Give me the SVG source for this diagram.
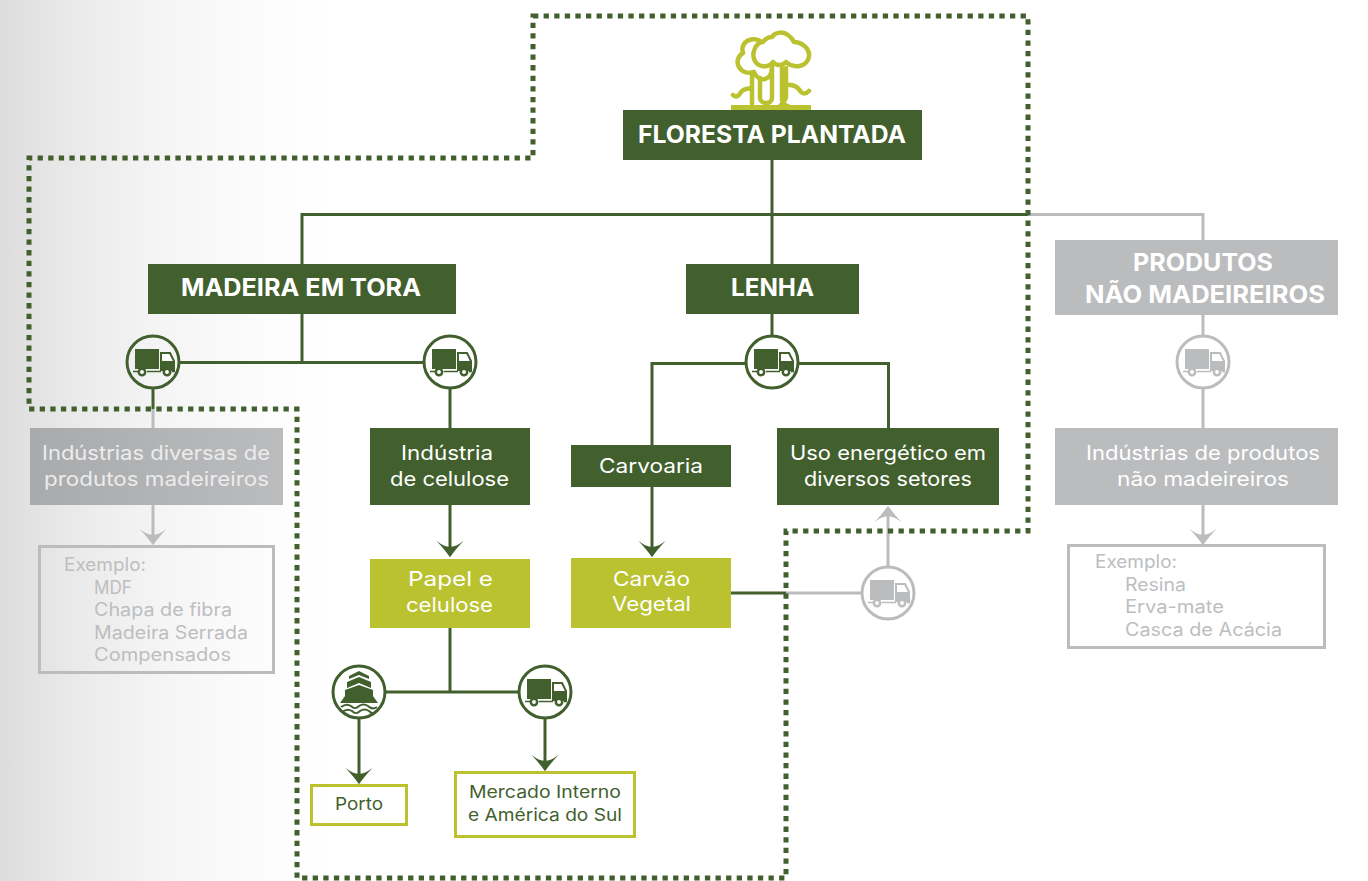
<svg xmlns="http://www.w3.org/2000/svg" xmlns:xlink="http://www.w3.org/1999/xlink" width="1368" height="881" viewBox="0 0 1368 881">
<style>
text{font-family:Inter,"Open Sans","Liberation Sans",sans-serif;text-anchor:start}
.g{fill:#425f2e}.y{fill:#bac22f}.n{fill:#bbbcbe}
.t{fill:#fff;font-size:24px;font-weight:700}
.b{fill:#fff;font-size:20px;font-weight:400}
.d{fill:#425f2e;font-size:17px;font-weight:400}
.e{fill:#bdbebf;font-size:18px;font-weight:400}
.cg,.cn{fill:none;stroke-width:3}
.cg{stroke:#425f2e}.cn{stroke:#bbbcbe}
.ico-g{color:#425f2e}.ico-n{color:#bbbcbe}
.frame{fill:none;stroke-width:3}
</style>
<defs>
<linearGradient id="bg" x1="0" x2="1" y1="0" y2="0"><stop offset="0" stop-color="#dddddd"/><stop offset="0.25" stop-color="#ebebeb"/><stop offset="0.5" stop-color="#f5f5f5"/><stop offset="0.75" stop-color="#fbfbfb"/><stop offset="1" stop-color="#fff"/></linearGradient>
<linearGradient id="gb" gradientUnits="userSpaceOnUse" x1="30" x2="283" y1="0" y2="0"><stop offset="0" stop-color="#a9aaab"/><stop offset="1" stop-color="#bbbcbe"/></linearGradient>
<marker id="ag" markerUnits="userSpaceOnUse" markerWidth="26" markerHeight="28" refX="12" refY="12" orient="auto" viewBox="0 0 16 24"><path d="M0,0.5Q5,7 5,12Q5,17 0,23.5Q8,16 14,12Q8,8 0,0.5Z" fill="#425f2e"/></marker>
<marker id="an" markerUnits="userSpaceOnUse" markerWidth="26" markerHeight="28" refX="12" refY="12" orient="auto" viewBox="0 0 16 24"><path d="M0,0.5Q5,7 5,12Q5,17 0,23.5Q8,16 14,12Q8,8 0,0.5Z" fill="#bbbcbe"/></marker>
<g id="truck">
<circle cx="0" cy="0" r="26" fill="none" stroke="currentColor" stroke-width="3"/>
<rect x="-18" y="-13" width="24" height="20" fill="currentColor"/>
<path d="M8,-9H17L21,-1V8H8Z" fill="none" stroke="currentColor" stroke-width="2"/>
<path d="M9,-8H15.500L19,-2H9Z" fill="#fff"/>
<path d="M9,-1H20V8H9Z" fill="currentColor"/>
<path d="M-20,9.500H-15M-6,9.500H8M19,9.500H22" stroke="currentColor" stroke-width="1.500" fill="none"/>
<circle cx="-11" cy="10" r="3.200" fill="#fff" stroke="currentColor" stroke-width="2.500"/>
<circle cx="14" cy="10" r="3.200" fill="#fff" stroke="currentColor" stroke-width="2.500"/>
</g>
</defs>

<rect id="background" x="0" y="0" width="330" height="881" fill="url(#bg)"/>

<g id="connectors">
<path class="cg" d="M772,160V264"/>
<path class="cg" d="M302,264V214.500H1028"/>
<path class="cn" d="M1028,214.500H1203V240"/>
<path class="cg" d="M302,314V362.500"/>
<path class="cg" d="M178,362.500H424"/>
<path class="cg" d="M153,388V409"/>
<path class="cn" d="M153,409V428"/>
<path class="cn" d="M153,505V543" marker-end="url(#an)"/>
<path class="cg" d="M450,388V428"/>
<path class="cg" d="M450,505V555" marker-end="url(#ag)"/>
<path class="cg" d="M450,628V692"/>
<path class="cg" d="M386,692H519"/>
<path class="cg" d="M359,718V782" marker-end="url(#ag)"/>
<path class="cg" d="M545,718V769" marker-end="url(#ag)"/>
<path class="cg" d="M772,314V336"/>
<path class="cg" d="M746,363.500H652V445"/>
<path class="cg" d="M798,363.500H888.500V428"/>
<path class="cg" d="M652,487V555" marker-end="url(#ag)"/>
<path class="cg" d="M731,593H786"/>
<path class="cn" d="M786,593H862"/>
<path class="cn" d="M888,567V508" marker-end="url(#an)"/>
<path class="cn" d="M1203,315V336"/>
<path class="cn" d="M1203,388V428"/>
<path class="cn" d="M1203,505V543" marker-end="url(#an)"/>
</g>

<path id="boundary" d="M533,16H1028V531H786V878H297V409H29V158H533Z" fill="none" stroke="#425f2e" stroke-width="5" stroke-dasharray="5.300 5.300"/>

<g id="tree" fill="none" stroke="#bac22f" stroke-width="4.500" stroke-linecap="round" stroke-linejoin="round">
<path d="M773,62C770,66 765,67 762,66C755,65 752,57 754,51C755,46 759,42 763,42C766,38 770,37 772,37C775,32 783,31 788,35C791,37 793,40 794,42C802,42 810,49 809,56C808,64 801,67 795,66C791,66 788,64 786,62C782,66 776,66 773,62Z"/>
<path d="M760,41C755,38 747,39 744,44C742,47 742,50 743,53C738,56 736,62 739,67C742,72 748,74 754,72C756,77 760,80 765,79C769,78 772,74 772,67"/>
<path d="M752,76V104M760,78V98C760,104 772,105 772,98V68M782,68V100C782,104 786,106 788,106M786,68V96C786,101 782,104 780,106"/>
<path d="M733,95C736,98 739,96 741,92C744,88 749,89 752,88M809,91C806,94 803,94 801,92C798,87 794,84 786,85"/>
<path d="M731,107.500H811" stroke-width="5" stroke-linecap="butt"/>
</g>

<g id="node-floresta"><rect class="g" x="623" y="110" width="299" height="50"/><text class="t" x="638" y="143" textLength="268" lengthAdjust="spacingAndGlyphs">FLORESTA PLANTADA</text></g>
<g id="node-madeira"><rect class="g" x="148" y="264" width="308" height="50"/><text class="t" x="181" y="296" textLength="240" lengthAdjust="spacingAndGlyphs">MADEIRA EM TORA</text></g>
<g id="node-lenha"><rect class="g" x="686" y="264" width="173" height="50"/><text class="t" x="731" y="296" textLength="83" lengthAdjust="spacingAndGlyphs">LENHA</text></g>
<g id="node-produtos"><rect class="n" x="1055" y="240" width="283" height="75"/><text class="t" x="1133" y="271" textLength="140" lengthAdjust="spacingAndGlyphs">PRODUTOS</text><text class="t" x="1085" y="303" textLength="240" lengthAdjust="spacingAndGlyphs">NÃO MADEIREIROS</text></g>

<g id="icon-truck-1" class="ico-g"><use xlink:href="#truck" href="#truck" x="153" y="362"/></g>
<g id="icon-truck-2" class="ico-g"><use xlink:href="#truck" href="#truck" x="450" y="362"/></g>
<g id="icon-truck-3" class="ico-g"><use xlink:href="#truck" href="#truck" x="772" y="362"/></g>
<g id="icon-truck-4" class="ico-n"><use xlink:href="#truck" href="#truck" x="1203" y="362"/></g>
<g id="icon-truck-5" class="ico-n"><use xlink:href="#truck" href="#truck" x="888" y="593"/></g>
<g id="icon-truck-6" class="ico-g"><use xlink:href="#truck" href="#truck" x="545" y="692"/></g>
<g id="icon-ship" class="ico-g">
<circle cx="359" cy="692" r="26" fill="#fff" stroke="#425f2e" stroke-width="3"/>
<path d="M349,679V676L359,671L369,676V679L359,675Z" fill="#425f2e"/>
<path d="M347,688V682L359,677L371,682V688L359,683Z" fill="#425f2e"/>
<path d="M345,696V690L359,685L373,690V696L378,703H340Z" fill="#425f2e"/>
<path d="M341,707C345,704 348,704 351,706C354,709 356,709 359,706C362,704 365,704 368,706C371,709 374,709 377,707M342,712C346,709 349,709 352,711C355,714 357,714 360,711C363,709 366,709 369,711C372,714 374,714 376,712" fill="none" stroke="#425f2e" stroke-width="2"/>
</g>

<g id="node-ind-diversas"><rect x="30" y="428" width="253" height="77" fill="url(#gb)"/><text class="b" x="42" y="460" style="fill:#ececec" textLength="228" lengthAdjust="spacingAndGlyphs">Indústrias diversas de</text><text class="b" x="44" y="486" style="fill:#ececec" textLength="225" lengthAdjust="spacingAndGlyphs">produtos madeireiros</text></g>
<g id="node-ex-madeira"><rect class="frame" x="39.500" y="546.500" width="234" height="126" stroke="#bbbcbe"/>
<text class="e" x="64" y="571" textLength="82" lengthAdjust="spacingAndGlyphs">Exemplo:</text>
<text class="e" x="94" y="594" textLength="38" lengthAdjust="spacingAndGlyphs">MDF</text>
<text class="e" x="94" y="616" textLength="138" lengthAdjust="spacingAndGlyphs">Chapa de fibra</text>
<text class="e" x="94" y="639" textLength="154" lengthAdjust="spacingAndGlyphs">Madeira Serrada</text>
<text class="e" x="94" y="661" textLength="137" lengthAdjust="spacingAndGlyphs">Compensados</text></g>
<g id="node-ind-celulose"><rect class="g" x="370" y="428" width="160" height="77"/><text class="b" x="401" y="460" textLength="92" lengthAdjust="spacingAndGlyphs">Indústria</text><text class="b" x="390" y="486" textLength="119" lengthAdjust="spacingAndGlyphs">de celulose</text></g>
<g id="node-papel"><rect class="y" x="370" y="559" width="160" height="69"/><text class="b" x="408" y="586" textLength="85" lengthAdjust="spacingAndGlyphs">Papel e</text><text class="b" x="406" y="612" textLength="87" lengthAdjust="spacingAndGlyphs">celulose</text></g>
<g id="node-carvoaria"><rect class="g" x="571" y="445" width="160" height="42"/><text class="b" x="599" y="473" textLength="104" lengthAdjust="spacingAndGlyphs">Carvoaria</text></g>
<g id="node-carvao"><rect class="y" x="571" y="558" width="160" height="70"/><text class="b" x="613" y="586" textLength="77" lengthAdjust="spacingAndGlyphs">Carvão</text><text class="b" x="612" y="611" textLength="79" lengthAdjust="spacingAndGlyphs">Vegetal</text></g>
<g id="node-uso"><rect class="g" x="777" y="428" width="222" height="77"/><text class="b" x="790" y="460" textLength="196" lengthAdjust="spacingAndGlyphs">Uso energético em</text><text class="b" x="804" y="486" textLength="168" lengthAdjust="spacingAndGlyphs">diversos setores</text></g>
<g id="node-ind-nao"><rect class="n" x="1055" y="428" width="283" height="77"/><text class="b" x="1086" y="460" textLength="234" lengthAdjust="spacingAndGlyphs">Indústrias de produtos</text><text class="b" x="1117" y="486" textLength="172" lengthAdjust="spacingAndGlyphs">não madeireiros</text></g>
<g id="node-ex-nao"><rect class="frame" x="1068.500" y="545.500" width="256" height="102" stroke="#bbbcbe"/>
<text class="e" x="1095" y="568" textLength="82" lengthAdjust="spacingAndGlyphs">Exemplo:</text>
<text class="e" x="1125" y="591" textLength="61" lengthAdjust="spacingAndGlyphs">Resina</text>
<text class="e" x="1125" y="613" textLength="99" lengthAdjust="spacingAndGlyphs">Erva-mate</text>
<text class="e" x="1125" y="636" textLength="157" lengthAdjust="spacingAndGlyphs">Casca de Acácia</text></g>
<g id="node-porto"><rect class="frame" x="311.500" y="785.500" width="95" height="39" stroke="#bac22f"/><text class="d" x="335" y="810" textLength="48" lengthAdjust="spacingAndGlyphs">Porto</text></g>
<g id="node-mercado"><rect class="frame" x="455.500" y="772.500" width="179" height="64" stroke="#bac22f"/><text class="d" x="469" y="798" textLength="152" lengthAdjust="spacingAndGlyphs">Mercado Interno</text><text class="d" x="468" y="821" textLength="154" lengthAdjust="spacingAndGlyphs">e América do Sul</text></g>
</svg>
